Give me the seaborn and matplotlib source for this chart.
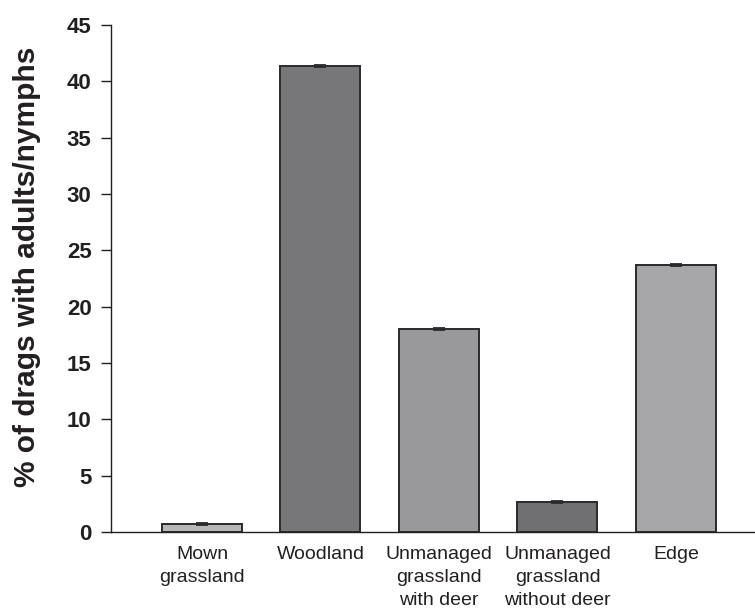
import matplotlib
matplotlib.use("Agg")
import matplotlib.pyplot as plt
import seaborn as sns
import pandas as pd
import numpy as np

categories = ["Mown\ngrassland", "Woodland", "Unmanaged\ngrassland\nwith deer",
              "Unmanaged\ngrassland\nwithout deer", "Edge"]
values = [0.7, 41.35, 18.0, 2.7, 23.7]
errors = [0.08, 0.08, 0.08, 0.08, 0.08]
bar_colors = ["#b6b7bb", "#76777b", "#98999d", "#6f7074", "#a6a7ab"]
y_ticks = [0, 5, 10, 15, 20, 25, 30, 35, 40, 45]

sns.set_theme(style="white")
plt.rcParams['font.family'] = ['Liberation Sans', 'DejaVu Sans']

df = pd.DataFrame({"cat": categories, "val": values})

fig = plt.figure(figsize=(7.55, 6.13), dpi=100)
ax = fig.add_axes([0.147, 0.1321, 0.853, 0.8271])

sns.barplot(data=df, x="cat", y="val", hue="cat", palette=bar_colors,
            legend=False, errorbar=None, width=0.675,
            edgecolor="#2a2a2c", linewidth=1.4, ax=ax)
xs = np.arange(len(categories))
ax.errorbar(xs, values, yerr=errors, fmt="none", ecolor="#2a2a2c",
            elinewidth=1.0, capsize=4, capthick=1.3)

ax.set_ylim(0, 45)
ax.set_xlim(-0.768, 4.667)
ax.set_yticks(y_ticks)
ax.set_yticklabels([str(t) for t in y_ticks], fontsize=16, fontweight="bold", color="#231f20")
ax.set_xticks(xs)
ax.set_xticklabels(categories, fontsize=14, color="#231f20", linespacing=1.45)
ax.set_xticks([-0.768], minor=True)
ax.tick_params(axis="x", which="major", length=0, pad=10)
ax.tick_params(axis="x", which="minor", length=6, width=1, color="#231f20", direction="out")
ax.tick_params(axis="y", length=7, width=1, color="#231f20", direction="out", pad=7, left=True)

for side in ["top", "right"]:
    ax.spines[side].set_visible(False)
for side in ["left", "bottom"]:
    ax.spines[side].set_color("#231f20")
    ax.spines[side].set_linewidth(1.0)

ax.set_xlabel("")
ax.set_ylabel("% of drags with adults/nymphs", fontsize=21.5, fontweight="bold", color="#231f20")
ax.yaxis.set_label_coords(-0.109, 0.523)

fig.savefig("out.png", dpi=100, facecolor="white")
